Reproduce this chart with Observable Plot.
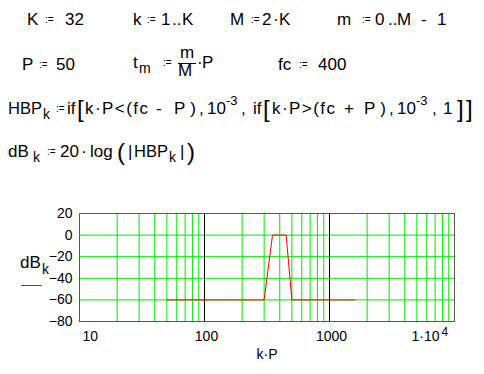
<!DOCTYPE html>
<html>
<head>
<meta charset="utf-8">
<script src="https://cdn.jsdelivr.net/npm/d3@7"></script>
<script src="https://cdn.jsdelivr.net/npm/@observablehq/plot@0.6"></script>
<style>
  html, body { margin: 0; padding: 0; background: #fff; }
  #page { position: relative; width: 484px; height: 374px; overflow: hidden; background: #fff; }
  #chart { position: absolute; left: 0; top: 195px; }
  #sheet { position: absolute; left: 0; top: 0; }
  #sheet text { font-family: "Liberation Sans", Arial, sans-serif; fill: #000; font-size: 17px; }
  #sheet text.def { font-size: 10px; }
  #sheet text.sub { font-size: 14px; }
  #sheet text.sup { font-size: 13px; }
  #sheet text.br  { font-size: 24px; }
</style>
</head>
<body>
<div id="page">
  <div id="chart"></div>
  <svg id="sheet" width="484" height="374">
    <!-- K := 32   k := 1..K   M := 2·K   m := 0..M - 1 -->
    <text x="27" y="25">K</text><text class="def" x="45" y="23">:=</text><text x="65" y="25">32</text>
    <text x="133" y="25">k</text><text class="def" x="147" y="23">:=</text>
    <text x="161" y="25">1</text><text x="172" y="25">..</text><text x="182" y="25">K</text>
    <text x="230" y="25">M</text><text class="def" x="251" y="23">:=</text>
    <text x="262" y="25">2</text><text x="273" y="25">·</text><text x="279" y="25">K</text>
    <text x="337" y="25">m</text><text class="def" x="362" y="23">:=</text>
    <text x="375" y="25">0</text><text x="388" y="25">..</text><text x="397" y="25">M</text>
    <text x="421" y="25">-</text><text x="437" y="25">1</text>
    <!-- P := 50   t_m := m/M·P   fc := 400 -->
    <text x="22" y="70">P</text><text class="def" x="39" y="68">:=</text><text x="56" y="70">50</text>
    <text x="133" y="68">t</text><text class="sub" x="139" y="73">m</text><text class="def" x="163" y="66">:=</text>
    <text x="180" y="58">m</text><line x1="178" x2="196" y1="63.5" y2="63.5" stroke="#000" stroke-width="1"/><text x="178" y="76">M</text>
    <text x="197" y="68">·</text><text x="202" y="68">P</text>
    <text x="278" y="70">fc</text><text class="def" x="299" y="68">:=</text><text x="318" y="70">400</text>
    <!-- HBP_k := if[k·P<(fc - P), 10^-3, if[k·P>(fc + P), 10^-3, 1]] -->
    <text x="8" y="114" textLength="34" lengthAdjust="spacingAndGlyphs">HBP</text><text class="sub" x="43" y="119">k</text><text class="def" x="56" y="112">:=</text>
    <text x="67" y="114">if</text><text class="br" x="77" y="117">[</text>
    <text x="85" y="114" textLength="63" lengthAdjust="spacing">k·P&lt;(fc</text><text x="156" y="114">-</text>
    <text x="174" y="114" textLength="22" lengthAdjust="spacing">P)</text>
    <text x="199" y="114">,</text><text x="207" y="114">10</text><text class="sup" x="226" y="105">-3</text>
    <text x="241" y="114">,</text><text x="253" y="114">if</text><text class="br" x="263" y="117">[</text>
    <text x="272" y="114" textLength="63" lengthAdjust="spacing">k·P&gt;(fc</text><text x="344" y="114">+</text>
    <text x="364" y="114" textLength="22" lengthAdjust="spacing">P)</text>
    <text x="389" y="114">,</text><text x="397" y="114">10</text><text class="sup" x="416" y="105">-3</text>
    <text x="432" y="114">,</text><text x="443" y="114">1</text>
    <text class="br" x="457" y="117">]</text><text class="br" x="466" y="117">]</text>
    <!-- dB_k := 20·log(|HBP_k|) -->
    <text x="8" y="157">dB</text><text class="sub" x="33" y="162">k</text><text class="def" x="47" y="155">:=</text>
    <text x="60" y="157">20</text><text x="81" y="157">·</text><text x="90" y="157">log</text>
    <text class="br" x="117" y="160">(</text>
    <text x="128" y="157">|</text><text x="134" y="157" textLength="34" lengthAdjust="spacingAndGlyphs">HBP</text>
    <text class="sub" x="169" y="162">k</text><text x="180" y="157">|</text>
    <text class="br" x="187" y="160">)</text>
    <!-- y axis title with its line sample -->
    <text x="20" y="268">dB</text><text class="sub" x="42" y="274">k</text>
    <line x1="21" x2="42" y1="285.5" y2="285.5" stroke="red" stroke-width="1"/>
  </svg>
</div>
<script>
// Sampled bandpass magnitude: frequencies k·P (k = 1..32, P = 50) and level in dB
const kP = [50, 100, 150, 200, 250, 300, 350, 400, 450, 500, 550, 600, 650, 700, 750, 800,
            850, 900, 950, 1000, 1050, 1100, 1150, 1200, 1250, 1300, 1350, 1400, 1450, 1500, 1550, 1600];
const dB = [-60, -60, -60, -60, -60, -60, 0, 0, 0, -60, -60, -60, -60, -60, -60, -60,
            -60, -60, -60, -60, -60, -60, -60, -60, -60, -60, -60, -60, -60, -60, -60, -60];

// Grid and tick values
const minorX = [20, 30, 40, 50, 60, 70, 80, 90, 200, 300, 400, 500, 600, 700, 800, 900,
                2000, 3000, 4000, 5000, 6000, 7000, 8000, 9000];
const decadeX = [100, 1000];
const gridY = [0, -20, -40, -60];
const yTicks = [20, 0, -20, -40, -60, -80];
const xTicksMid = [100, 1000];
const xTickFirst = [10];
const xTickLast = [10000];

const points = kP.map((f, i) => ({f, level: dB[i]}));
const GREEN = "#00e800";
const FONT = "'Liberation Sans', Arial, sans-serif";

const chart = Plot.plot({
  width: 484,
  height: 179,
  marginLeft: 79,
  marginRight: 30,
  marginTop: 18,
  marginBottom: 53,
  style: {fontFamily: FONT, fontSize: "14px", background: "transparent", color: "#000"},
  x: {type: "log", domain: [10, 10000]},
  y: {domain: [-80, 20]},
  marks: [
    Plot.ruleX(minorX, {stroke: GREEN}),
    Plot.ruleY(gridY, {stroke: GREEN}),
    Plot.ruleX(decadeX, {stroke: "#000"}),
    Plot.line(points, {x: "f", y: "level", stroke: "red", strokeWidth: 1}),
    Plot.frame({stroke: "#555"}),
    Plot.axisY(yTicks, {tickSize: 0, tickPadding: 7, label: null, fontSize: 14}),
    Plot.axisX(xTickFirst, {tickSize: 0, tickPadding: 10, textAnchor: "start", dx: 3, label: null, fontSize: 14, tickFormat: d => String(d)}),
    Plot.axisX(xTicksMid, {tickSize: 0, tickPadding: 10, dx: 2, label: null, fontSize: 14, tickFormat: d => String(d)}),
    Plot.axisX(xTickLast, {tickSize: 0, tickPadding: 10, textAnchor: "end", dx: -15, label: null, fontSize: 14, tickFormat: () => "1·10"}),
    Plot.text(xTickLast, {x: d => d, frameAnchor: "bottom", dy: 14, dx: -13, textAnchor: "start", fontSize: 12, text: () => "4"}),
    Plot.text(["k·P"], {frameAnchor: "bottom", dy: 37, fontSize: 14, text: d => d})
  ]
});
document.getElementById("chart").appendChild(chart);
</script>
</body>
</html>
